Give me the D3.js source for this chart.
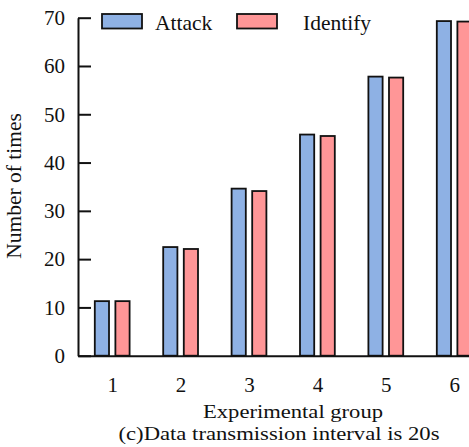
<!DOCTYPE html>
<html>
<head>
<meta charset="utf-8">
<script src="https://cdn.jsdelivr.net/npm/d3@7"></script>
<style>
  body { margin: 0; background: #fff; }
  svg { display: block; }
  text { font-family: "Liberation Serif", "Times New Roman", serif; fill: #111; }
</style>
</head>
<body>
<div id="chart"></div>
<script>
// data
const groups = [1, 2, 3, 4, 5, 6];
const seriesNames = ["Attack", "Identify"];
const attack = [11.3, 22.5, 34.6, 45.8, 57.8, 69.3];
const identify = [11.3, 22.1, 34.1, 45.5, 57.6, 69.2];
const yTicks = [0, 10, 20, 30, 40, 50, 60, 70];

const colors = { Attack: "#8eb1e4", Identify: "#ff9697" };

const width = 469, height = 447;
const x0 = 78, yZero = 355.7, yTop = 17.7;

const svg = d3.select("#chart")
  .append("svg")
  .attr("width", width)
  .attr("height", height);

const xScale = d3.scaleLinear()
  .domain([0.5, 6.5])
  .range([x0, x0 + 6 * 68.4]);

const yScale = d3.scaleLinear()
  .domain([0, 70])
  .range([yZero, yTop]);

const xSub = d3.scaleBand()
  .domain(seriesNames)
  .range([-17.4, 17.4])
  .paddingInner(0.31);

const rows = groups.map((g, i) => ({ group: g, Attack: attack[i], Identify: identify[i] }));

const bars = svg.append("g")
  .selectAll("g")
  .data(rows)
  .enter()
  .append("g")
  .attr("transform", d => `translate(${xScale(d.group)},0)`);

bars.selectAll("rect")
  .data(d => seriesNames.map(s => ({ key: s, value: d[s] })))
  .enter()
  .append("rect")
  .attr("x", d => xSub(d.key))
  .attr("y", d => yScale(d.value))
  .attr("width", xSub.bandwidth())
  .attr("height", d => yScale(0) - yScale(d.value))
  .attr("fill", d => colors[d.key])
  .attr("stroke", "#111")
  .attr("stroke-width", 1.8);

// axes
const yAxis = d3.axisLeft(yScale)
  .tickValues(yTicks)
  .tickSizeInner(-13)
  .tickSizeOuter(0)
  .tickPadding(13);

const xAxis = d3.axisBottom(xScale)
  .tickValues(groups)
  .tickFormat(d3.format("d"))
  .tickSize(0)
  .tickPadding(21);

const gx = svg.append("g")
  .attr("transform", `translate(0,${yZero})`)
  .call(xAxis);

const gy = svg.append("g")
  .attr("transform", `translate(${x0},0)`)
  .call(yAxis);

[gx, gy].forEach(g => {
  g.attr("font-family", null);
  g.select(".domain").attr("stroke", "#111").attr("stroke-width", 2);
  g.selectAll(".tick line").attr("stroke", "#111").attr("stroke-width", 2);
  g.selectAll("text")
    .attr("font-size", 21)
    .attr("fill", "#111");
});

// axis titles
svg.append("text")
  .attr("x", 293)
  .attr("y", 418)
  .attr("text-anchor", "middle")
  .attr("font-size", 19.5)
  .attr("textLength", 180)
  .attr("lengthAdjust", "spacingAndGlyphs")
  .text("Experimental group");

svg.append("text")
  .attr("x", 279)
  .attr("y", 440)
  .attr("text-anchor", "middle")
  .attr("font-size", 19.5)
  .attr("textLength", 321)
  .attr("lengthAdjust", "spacingAndGlyphs")
  .text("(c)Data transmission interval is 20s");

svg.append("text")
  .attr("transform", "translate(21,186) rotate(-90)")
  .attr("text-anchor", "middle")
  .attr("font-size", 21.5)
  .text("Number of times");

// legend
const legendPos = [{ sx: 102, tx: 155 }, { sx: 237, tx: 303 }];
const legend = svg.append("g")
  .selectAll("g")
  .data(seriesNames)
  .enter()
  .append("g");

legend.append("rect")
  .attr("x", (d, i) => legendPos[i].sx)
  .attr("y", 14)
  .attr("width", 40)
  .attr("height", 14.5)
  .attr("fill", d => colors[d])
  .attr("stroke", "#111")
  .attr("stroke-width", 1.8);

legend.append("text")
  .attr("x", (d, i) => legendPos[i].tx)
  .attr("y", 30)
  .attr("font-size", 21.5)
  .text(d => d);
</script>
</body>
</html>
